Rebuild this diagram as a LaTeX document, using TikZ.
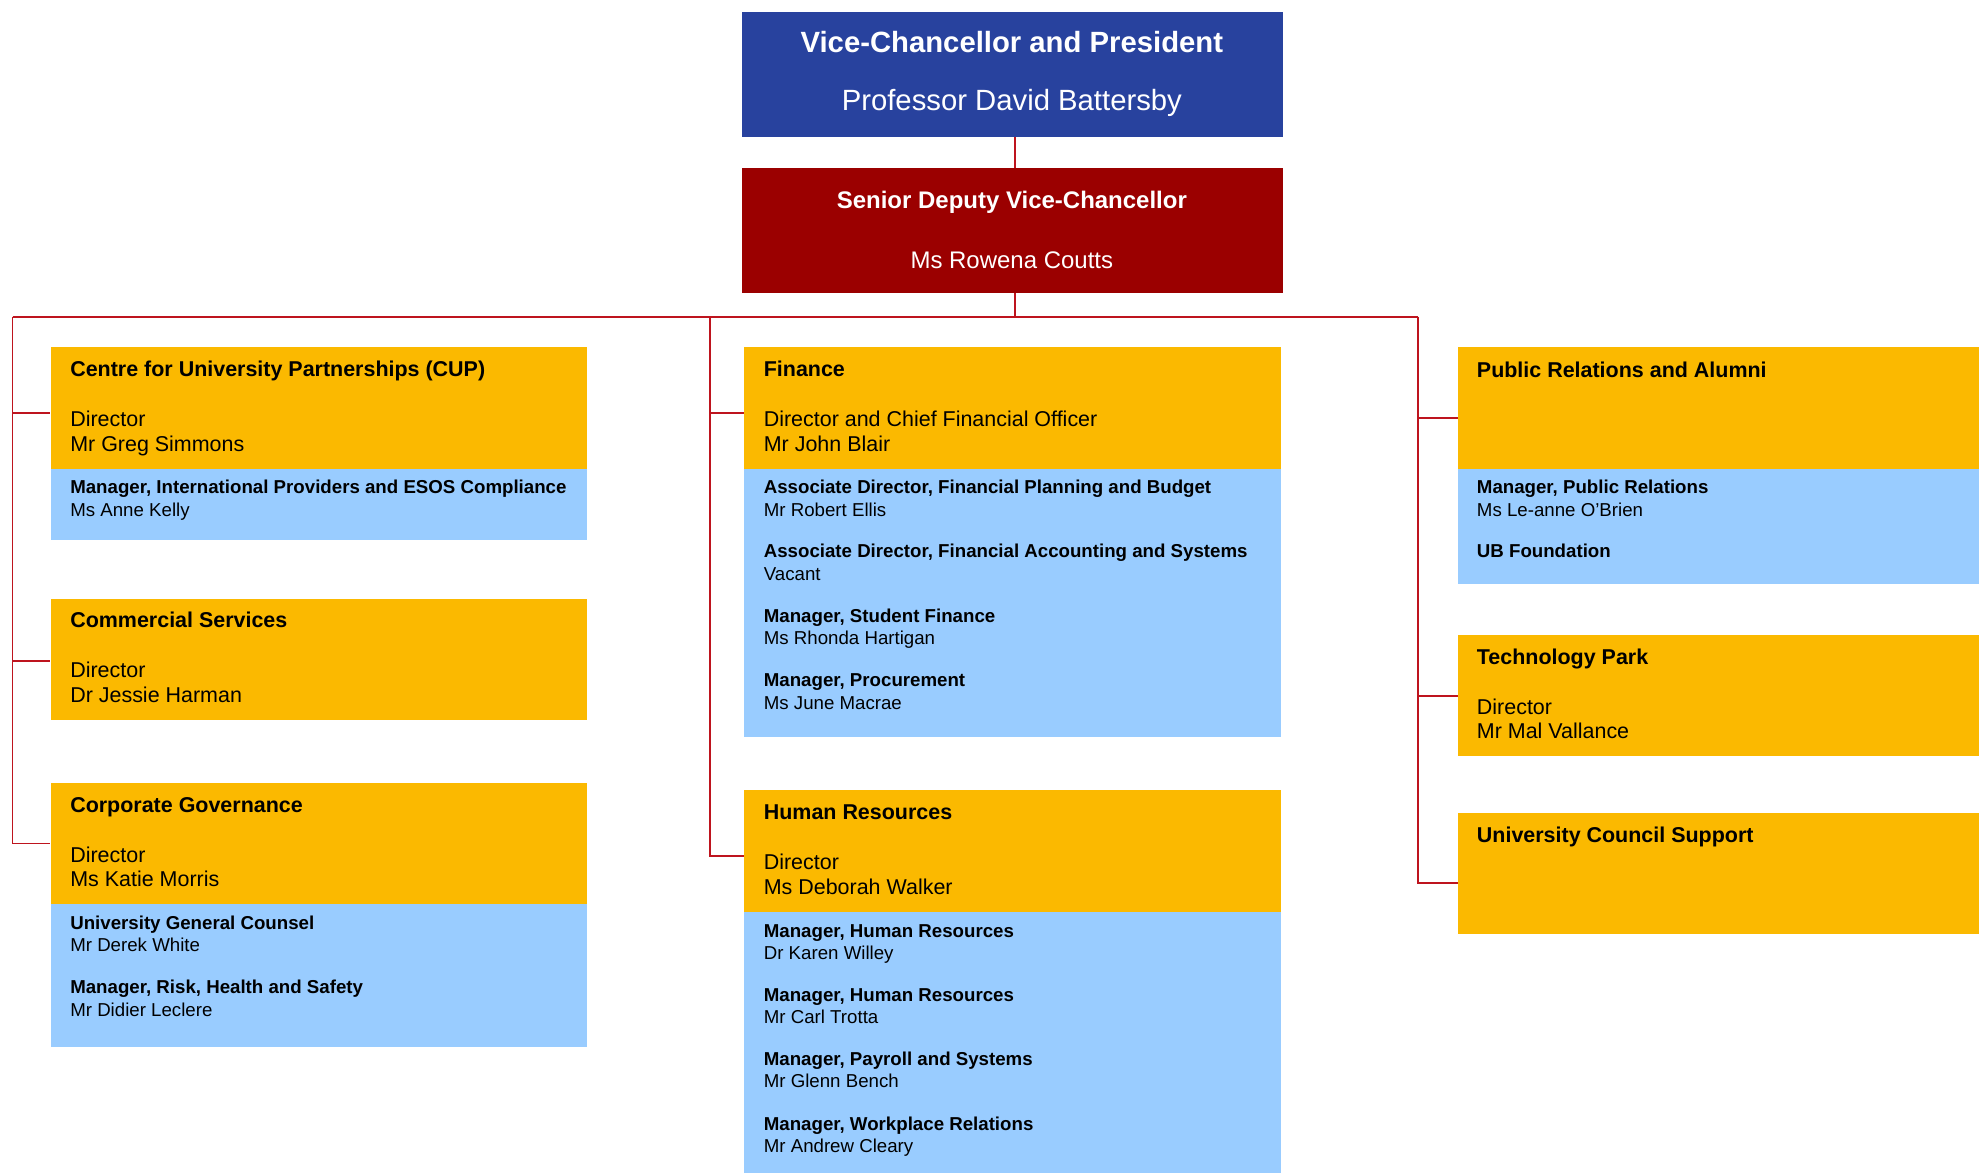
\documentclass[tikz,border=0pt]{standalone}
\usepackage{fontspec}
\setmainfont{Liberation Sans}
\usetikzlibrary{positioning}
\definecolor{vcblue}{RGB}{40,66,158}
\definecolor{sdvcred}{RGB}{155,0,0}
\definecolor{unitorange}{RGB}{251,185,0}
\definecolor{staffblue}{RGB}{153,204,255}
\definecolor{linkred}{RGB}{190,20,30}
\tikzset{%
	topbox/.style={rectangle, inner sep=0pt, minimum width=428.5pt, minimum height=99pt, anchor=north west},
	unitbox/.style={rectangle, fill=unitorange, inner sep=0pt, minimum width=425pt, minimum height=96pt, anchor=north west},
	staffbox/.style={rectangle, fill=staffblue, inner sep=0pt, minimum width=425pt},
	toptitle/.style={anchor=base, inner sep=0pt, text=white, font=\fontsize{#1}{#1}\selectfont\bfseries},
	topname/.style={anchor=base, inner sep=0pt, text=white, font=\fontsize{#1}{#1}\selectfont},
	unittitle/.style={anchor=base west, inner sep=0pt, font=\fontsize{17}{20}\selectfont\bfseries},
	roletext/.style={anchor=base west, inner sep=0pt, font=\fontsize{17}{20}\selectfont},
	posttitle/.style={anchor=base west, inner sep=0pt, font=\fontsize{14.8}{17}\selectfont\bfseries},
	holdertext/.style={anchor=base west, inner sep=0pt, font=\fontsize{14.8}{17}\selectfont},
	connector/.style={draw=linkred, line width=1.3pt}
}

\begin{document}
\begin{tikzpicture}[x=1pt, y=-1pt]
	\useasboundingbox (0,0) rectangle (1568,929);

	% executive
	\node[topbox, fill=vcblue] (vc) at (587.5,9.2) {};
	\node[toptitle=23.2] (vcT) at (801.7,41.5) {Vice-Chancellor and President};
	\node[topname=23.2]  (vcN) at (801.7,87.5) {Professor David Battersby};

	\node[topbox, fill=sdvcred] (sdvc) at (587.5,132.9) {};
	\node[toptitle=19] (sdvcT) at (801.7,165.5) {Senior Deputy Vice-Chancellor};
	\node[topname=19]  (sdvcN) at (801.7,212.5) {Ms Rowena Coutts};

	% left column
	\node[unitbox] (cup) at (40,275) {};
	\node[staffbox, minimum height=56pt, below=0pt of cup] (cupS) {};
	\node[unittitle]  (cupT)  at (55.5,298.5) {Centre for University Partnerships (CUP)};
	\node[roletext]   (cupR)  at (55.5,338)   {Director};
	\node[roletext]   (cupN)  at (55.5,357.5) {Mr Greg Simmons};
	\node[posttitle]  (cupP1) at (55.5,391)   {Manager, International Providers and ESOS Compliance};
	\node[holdertext] (cupH1) at (55.5,409)   {Ms Anne Kelly};

	\node[unitbox] (comm) at (40,474) {};
	\node[unittitle] (commT) at (55.5,497.5) {Commercial Services};
	\node[roletext]  (commR) at (55.5,537)   {Director};
	\node[roletext]  (commN) at (55.5,556.5) {Dr Jessie Harman};

	\node[unitbox] (corp) at (40,620) {};
	\node[staffbox, minimum height=113pt, below=0pt of corp] (corpS) {};
	\node[unittitle]  (corpT)  at (55.5,643.5) {Corporate Governance};
	\node[roletext]   (corpR)  at (55.5,683)   {Director};
	\node[roletext]   (corpN)  at (55.5,702.5) {Ms Katie Morris};
	\node[posttitle]  (corpP1) at (55.5,736.5) {University General Counsel};
	\node[holdertext] (corpH1) at (55.5,754)   {Mr Derek White};
	\node[posttitle]  (corpP2) at (55.5,787.5) {Manager, Risk, Health and Safety};
	\node[holdertext] (corpH2) at (55.5,805)   {Mr Didier Leclere};

	% middle column
	\node[unitbox] (fin) at (589.6,275) {};
	\node[staffbox, minimum height=212pt, below=0pt of fin] (finS) {};
	\node[unittitle]  (finT)  at (605,298.5) {Finance};
	\node[roletext]   (finR)  at (605,338)   {Director and Chief Financial Officer};
	\node[roletext]   (finN)  at (605,357.5) {Mr John Blair};
	\node[posttitle]  (finP1) at (605,391)   {Associate Director, Financial Planning and Budget};
	\node[holdertext] (finH1) at (605,409)   {Mr Robert Ellis};
	\node[posttitle]  (finP2) at (605,442)   {Associate Director, Financial Accounting and Systems};
	\node[holdertext] (finH2) at (605,460)   {Vacant};
	\node[posttitle]  (finP3) at (605,493)   {Manager, Student Finance};
	\node[holdertext] (finH3) at (605,511)   {Ms Rhonda Hartigan};
	\node[posttitle]  (finP4) at (605,544)   {Manager, Procurement};
	\node[holdertext] (finH4) at (605,562)   {Ms June Macrae};

	\node[unitbox] (hr) at (589.6,626) {};
	\node[staffbox, minimum height=207pt, below=0pt of hr] (hrS) {};
	\node[unittitle]  (hrT)  at (605,649.5) {Human Resources};
	\node[roletext]   (hrR)  at (605,689)   {Director};
	\node[roletext]   (hrN)  at (605,708.5) {Ms Deborah Walker};
	\node[posttitle]  (hrP1) at (605,742.5) {Manager, Human Resources};
	\node[holdertext] (hrH1) at (605,760)   {Dr Karen Willey};
	\node[posttitle]  (hrP2) at (605,793.5) {Manager, Human Resources};
	\node[holdertext] (hrH2) at (605,811)   {Mr Carl Trotta};
	\node[posttitle]  (hrP3) at (605,844.5) {Manager, Payroll and Systems};
	\node[holdertext] (hrH3) at (605,862)   {Mr Glenn Bench};
	\node[posttitle]  (hrP4) at (605,895.5) {Manager, Workplace Relations};
	\node[holdertext] (hrH4) at (605,913)   {Mr Andrew Cleary};

	% right column
	\node[unitbox, minimum width=413pt] (pr) at (1155,275) {};
	\node[staffbox, minimum width=413pt, minimum height=91pt, below=0pt of pr] (prS) {};
	\node[unittitle]  (prT)  at (1170,299)   {Public Relations and Alumni};
	\node[posttitle]  (prP1) at (1170,391)   {Manager, Public Relations};
	\node[holdertext] (prH1) at (1170,409)   {Ms Le-anne O'Brien};
	\node[posttitle]  (prP2) at (1170,442)   {UB Foundation};

	\node[unitbox, minimum width=413pt] (tech) at (1155,503) {};
	\node[unittitle] (techT) at (1170,526.5) {Technology Park};
	\node[roletext]  (techR) at (1170,566)   {Director};
	\node[roletext]  (techN) at (1170,585.5) {Mr Mal Vallance};

	\node[unitbox, minimum width=413pt] (ucs) at (1155,644) {};
	\node[unittitle] (ucsT) at (1170,667.5) {University Council Support};

	% reporting lines
	\coordinate (busL) at (10,251);
	\coordinate (busM) at (562.5,251);
	\coordinate (busR) at (1123.5,251);

	\draw[connector] ([xshift=2.3pt]vc.south) -- ([xshift=2.3pt]sdvc.north);
	\draw[connector] ([xshift=2.3pt]sdvc.south) -- ([xshift=2.3pt]sdvc.south |- busL);
	\draw[connector] (busL) -- (busR);

	\draw[connector] (busL) |- ([yshift=-4pt]cup.west);
	\draw[connector] (busL) |- ([yshift=-1.5pt]comm.west);
	\draw[connector] (busL) |- (corp.west);

	\draw[connector] (busM) |- ([yshift=-4pt]fin.west);
	\draw[connector] (busM) |- ([yshift=-4pt]hr.west);

	\draw[connector] (busR) |- ([yshift=-8pt]pr.west);
	\draw[connector] (busR) |- (tech.west);
	\draw[connector] (busR) |- ([yshift=-7.5pt]ucs.west);

\end{tikzpicture}
\end{document}
